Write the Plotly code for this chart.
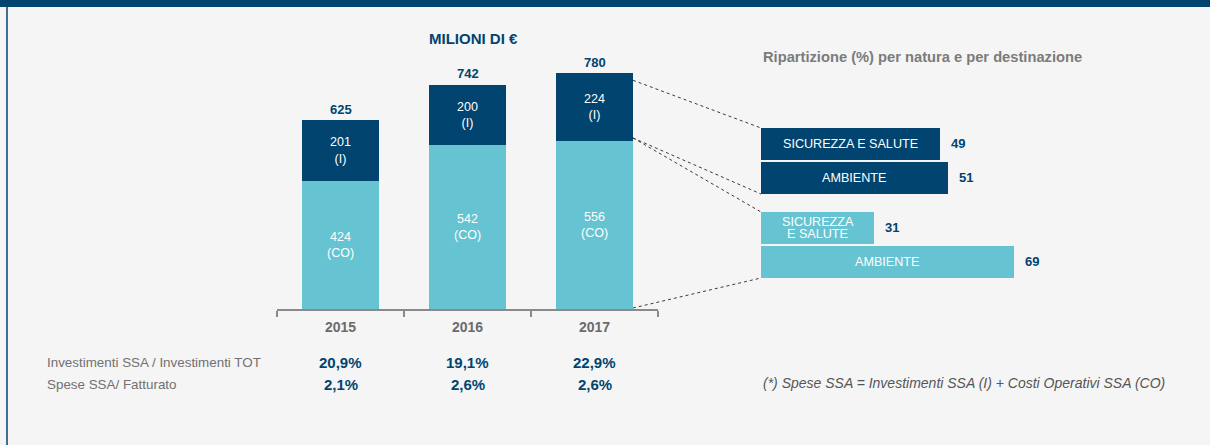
import plotly.graph_objects as go

# ---- data -------------------------------------------------------------
years = ["2015", "2016", "2017"]
investimenti = [201, 200, 224]          # (I)
costi_operativi = [424, 542, 556]       # (CO)
totali = [625, 742, 780]

ripartizione_labels = ["SICUREZZA E SALUTE", "AMBIENTE", "SICUREZZA<br>E SALUTE", "AMBIENTE"]
ripartizione_values = [49, 51, 31, 69]
ripartizione_natura = ["I", "I", "CO", "CO"]

row_labels = ["Investimenti SSA / Investimenti TOT", "Spese SSA/ Fatturato"]
row_inv_tot = ["20,9%", "19,1%", "22,9%"]
row_spese_fatt = ["2,1%", "2,6%", "2,6%"]

# ---- style ------------------------------------------------------------
W, H = 1210, 445
DARK = "#00446f"
LIGHT = "#65c3d2"
BG = "#f5f5f5"
GREY_TXT = "#717171"
FONT = "Liberation Sans, Arial, sans-serif"

def px(x):
    return x / W

def py(y):
    return 1 - y / H

# main stacked-bar area (pixel frame)
X0, X1 = 277, 658
Y_BASE, Y_TOP = 309, 37
Y_MAX = 900
BAR_W = 0.606

# breakdown bars area
HX0 = 761
H_SCALE = 3.66          # px per percentage point
H_ROW0, H_STEP = 144, 34
H_TOP, H_BOT = 110, 297
H_GROUP_GAP = 1.47      # offset between the (I) and (CO) groups
h_pos = [0, 1, H_GROUP_GAP + 1, H_GROUP_GAP + 2]
H_BAR_W = 32 / 34
H_LINE = 12             # line spacing for wrapped labels inside the bars

fig = go.Figure()

fig.add_trace(go.Bar(
    x=years, y=costi_operativi, marker_color=LIGHT, marker_line_width=0,
    text=[f"{v}<br>(CO)" for v in costi_operativi],
    textposition="inside", insidetextanchor="middle", textangle=0,
    textfont=dict(family=FONT, size=12.5, color="white"),
    xaxis="x", yaxis="y", hoverinfo="skip",
))
fig.add_trace(go.Bar(
    x=years, y=investimenti, marker_color=DARK, marker_line_width=0,
    text=[f"{v}<br>(I)" for v in investimenti],
    textposition="inside", insidetextanchor="middle", textangle=0,
    textfont=dict(family=FONT, size=12.5, color="white"),
    xaxis="x", yaxis="y", hoverinfo="skip",
))

h_colors = [DARK if n == "I" else LIGHT for n in ripartizione_natura]
fig.add_trace(go.Bar(
    x=ripartizione_values, y=h_pos, orientation="h", width=H_BAR_W,
    marker_color=h_colors, marker_line_width=0,
    xaxis="x2", yaxis="y2", hoverinfo="skip",
))

annotations = []

# totals above the stacked bars
for i, t in enumerate(totali):
    annotations.append(dict(
        x=i, y=t, xref="x", yref="y", text=f"<b>{t}</b>", showarrow=False,
        xanchor="center", yanchor="middle", yshift=11,
        font=dict(family=FONT, size=13, color=DARK),
    ))

# labels inside and beside the breakdown bars
for lab, v, p in zip(ripartizione_labels, ripartizione_values, h_pos):
    lines = lab.split("<br>")
    n = len(lines)
    for k, line in enumerate(lines):
        annotations.append(dict(
            x=v / 2, y=p, xref="x2", yref="y2", text=line, showarrow=False,
            xanchor="center", yanchor="middle",
            yshift=-(k - (n - 1) / 2) * H_LINE,
            font=dict(family=FONT, size=12.6, color="white"),
        ))
    annotations.append(dict(
        x=v, y=p, xref="x2", yref="y2", text=f"<b>{v}</b>", showarrow=False,
        xanchor="left", yanchor="middle", xshift=9,
        font=dict(family=FONT, size=13, color=DARK),
    ))

# titles
annotations.append(dict(
    x=px(473), y=py(38), xref="paper", yref="paper", text="<b>MILIONI DI €</b>",
    showarrow=False, xanchor="center", yanchor="middle",
    font=dict(family=FONT, size=15, color=DARK),
))
annotations.append(dict(
    x=px(761), y=py(57), xref="paper", yref="paper", xanchor="left", yanchor="middle",
    text="<b>Ripartizione (%) per natura e per destinazione</b>",
    showarrow=False, font=dict(family=FONT, size=14.7, color="#7b7b7b"),
))

# ratio table below the bars
row_y = [362, 384]
for lab, ry in zip(row_labels, row_y):
    annotations.append(dict(
        x=px(45), y=py(ry), xref="paper", yref="paper", xanchor="left", yanchor="middle",
        text=lab, showarrow=False, font=dict(family=FONT, size=13.4, color=GREY_TXT),
    ))
for vals, ry in zip([row_inv_tot, row_spese_fatt], row_y):
    for i, v in enumerate(vals):
        annotations.append(dict(
            x=i, y=py(ry), xref="x", yref="paper", text=f"<b>{v}</b>",
            xanchor="center", yanchor="middle",
            showarrow=False, font=dict(family=FONT, size=15, color=DARK),
        ))

annotations.append(dict(
    x=px(761), y=py(383), xref="paper", yref="paper", xanchor="left", yanchor="middle",
    text="<i>(*) Spese SSA = Investimenti SSA (I) + Costi Operativi SSA (CO)</i>",
    showarrow=False, font=dict(family=FONT, size=14, color="#555555"),
))

# ---- connectors from the 2017 bar to the breakdown bars -------------------
def bar_px_x(i, side):
    return X0 + (i + 0.5 + side * BAR_W / 2) / len(years) * (X1 - X0)

def bar_px_y(v):
    return Y_BASE - v / Y_MAX * (Y_BASE - Y_TOP)

def hbar_px_y(p, side):
    return H_ROW0 + (p + side * H_BAR_W / 2) * H_STEP

last = len(years) - 1
bx = bar_px_x(last, +1)
split = costi_operativi[last]
top = totali[last]
connectors = [
    (bar_px_y(top) + 7, hbar_px_y(h_pos[0], -1)),
    (bar_px_y(split) - 3, hbar_px_y(h_pos[1], +1)),
    (bar_px_y(split) - 3, hbar_px_y(h_pos[2], -1)),
    (bar_px_y(0) - 1, hbar_px_y(h_pos[3], +1)),
]
shapes = []
for y_from, y_to in connectors:
    shapes.append(dict(
        type="line", xref="paper", yref="paper",
        x0=px(bx), y0=py(y_from), x1=px(HX0), y1=py(y_to),
        line=dict(color="#3a3a3a", width=1, dash="dot"),
    ))

# frame: top band and left rule
shapes.append(dict(type="rect", xref="paper", yref="paper", x0=0, x1=1,
                   y0=py(7), y1=1, fillcolor=DARK, line_width=0, layer="above"))
shapes.append(dict(type="line", xref="paper", yref="paper", x0=px(7), x1=px(7),
                   y0=0, y1=py(7), line=dict(color=DARK, width=1.5)))

fig.update_layout(
    width=W, height=H, margin=dict(l=0, r=0, t=0, b=0),
    paper_bgcolor=BG, plot_bgcolor="rgba(0,0,0,0)",
    barmode="stack", bargap=1 - BAR_W, showlegend=False,
    font=dict(family=FONT),
    xaxis=dict(
        domain=[px(X0), px(X1)], anchor="y", type="category",
        range=[-0.5, len(years) - 0.5],
        showline=True, linecolor="#8a8a8a", linewidth=2,
        ticks="outside", tickson="boundaries", ticklen=6, tickcolor="#8a8a8a", tickwidth=1.5,
        ticklabelstandoff=4,
        tickfont=dict(family=FONT, size=14, color="#6b6b6b", weight="bold"),
        showgrid=False, zeroline=False, fixedrange=True,
    ),
    yaxis=dict(
        domain=[py(Y_BASE), py(Y_TOP)], anchor="x", range=[0, Y_MAX],
        visible=False, showgrid=False, zeroline=False, fixedrange=True,
    ),
    xaxis2=dict(
        domain=[px(HX0), 1], anchor="y2", range=[0, (W - HX0) / H_SCALE],
        visible=False, showgrid=False, zeroline=False, fixedrange=True,
    ),
    yaxis2=dict(
        domain=[py(H_BOT), py(H_TOP)], anchor="x2",
        range=[(H_BOT - H_ROW0) / H_STEP, (H_TOP - H_ROW0) / H_STEP],
        visible=False, showgrid=False, zeroline=False, fixedrange=True,
    ),
    annotations=annotations,
    shapes=shapes,
)

fig.write_html("out.html")
